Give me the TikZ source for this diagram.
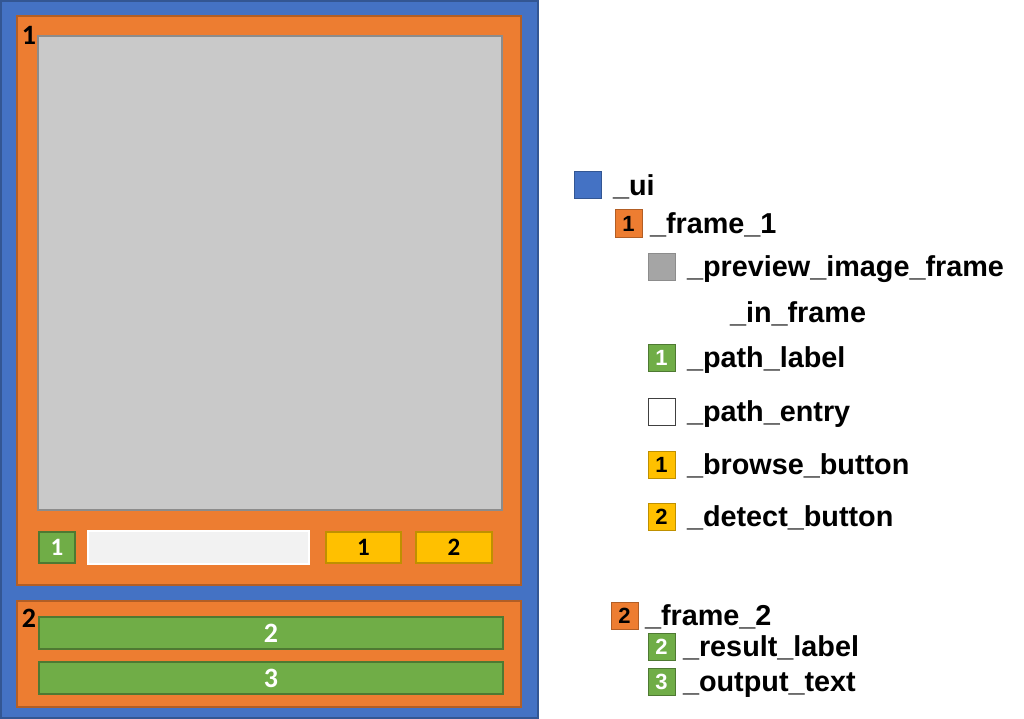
\documentclass[tikz,border=0pt]{standalone}
\usepackage{fontspec}
\setmainfont{Liberation Sans}
\newfontfamily\digitfont{Carlito}
\usepackage{xcolor}
\usetikzlibrary{positioning}

\definecolor{uiblue}{HTML}{4472C4}
\definecolor{frmorange}{HTML}{ED7D31}
\definecolor{previewgray}{HTML}{C9C9C9}
\definecolor{keygray}{HTML}{A5A5A5}
\definecolor{lblgreen}{HTML}{70AD47}
\definecolor{btnyellow}{HTML}{FFC000}
\definecolor{entrygray}{HTML}{F2F2F2}

\begin{document}
\begin{tikzpicture}[
        x=1pt, y=-1pt,
        every node/.style={inner sep=0pt, outer sep=0pt},
        panel/.style={anchor=north west, line width=1.2pt},
        size/.style 2 args={minimum width=#1pt, minimum height=#2pt},
        ui/.style={panel, draw=uiblue!75!black, fill=uiblue},
        frm/.style={panel, draw=frmorange!75!black, fill=frmorange, text=black},
        preview/.style={panel, draw=black!45, fill=previewgray},
        lbl/.style={panel, draw=lblgreen!70!black, fill=lblgreen, text=white},
        btn/.style={panel, draw=btnyellow!75!black, fill=btnyellow, text=black},
        entry/.style={panel, draw=white, fill=entrygray, line width=2pt},
        bignum/.style={font=\digitfont\bfseries\fontsize{28}{28}\selectfont},
        num/.style={font=\digitfont\bfseries\fontsize{25}{25}\selectfont},
        keynum/.style={font=\bfseries\fontsize{22}{22}\selectfont},
        key/.style={size={27}{27}, line width=1pt},
        keytext/.style={font=\bfseries\fontsize{28.8}{30}\selectfont, anchor=west,
                        text height=20.6pt, text depth=0pt},
        node distance=12pt
    ]
    \useasboundingbox (0,0) rectangle (1024,719);

    % Window
    \node[ui, size={537}{717}] (ui) at (1,1) {};

    % Frame 1
    \node[frm, size={504}{569}] (frame1) at (17,16) {};
    \node[bignum] (frame1num) at (29,35) {1};
    \node[preview, size={464}{474}] (preview) at (38,36) {};
    \node[lbl, num, size={36}{31}] (pathlabel) at (39,532) {1};
    \node[entry, size={221}{33}] (pathentry) at (88,531) {};
    \node[btn, num, size={75}{31}] (browse) at (326,532) {1};
    \node[btn, num, size={76}{31}] (detect) at (416,532) {2};

    % Frame 2
    \node[frm, size={504}{106}] (frame2) at (17,601) {};
    \node[bignum] (frame2num) at (29,618) {2};
    \node[lbl, bignum, size={464}{32}] (result) at (39,617) {2};
    \node[lbl, bignum, size={464}{32}] (output) at (39,662) {3};

    % Legend
    \node[ui, key] (uikey) at (574,172) {};
    \node[keytext, right=12pt of uikey] (uitext) {\_ui};
    \node[frm, key, keynum] (frame1key) at (615,210) {1};
    \node[keytext, right=8pt of frame1key] (frame1text) {\_frame\_1};
    \node[preview, key, fill=keygray] (previewkey) at (648,253) {};
    \node[keytext, right=12pt of previewkey] (previewtext) {\_preview\_image\_frame};
    \node[keytext] (previewtext2) at (730,312) {\_in\_frame};
    \node[lbl, key, keynum] (pathlabelkey) at (648,344) {1};
    \node[keytext, right=12pt of pathlabelkey] (pathlabeltext) {\_path\_label};
    \node[panel, key, draw=black!75, fill=white] (pathentrykey) at (648,398) {};
    \node[keytext, right=12pt of pathentrykey] (pathentrytext) {\_path\_entry};
    \node[btn, key, keynum] (browsekey) at (648,451) {1};
    \node[keytext, right=12pt of browsekey] (browsetext) {\_browse\_button};
    \node[btn, key, keynum] (detectkey) at (648,503) {2};
    \node[keytext, right=12pt of detectkey] (detecttext) {\_detect\_button};

    \node[frm, key, keynum] (frame2key) at (611,602) {2};
    \node[keytext, right=7pt of frame2key] (frame2text) {\_frame\_2};
    \node[lbl, key, keynum] (resultkey) at (648,633) {2};
    \node[keytext, right=8pt of resultkey] (resulttext) {\_result\_label};
    \node[lbl, key, keynum] (outputkey) at (648,668) {3};
    \node[keytext, right=8pt of outputkey] (outputtext) {\_output\_text};

\end{tikzpicture}
\end{document}
